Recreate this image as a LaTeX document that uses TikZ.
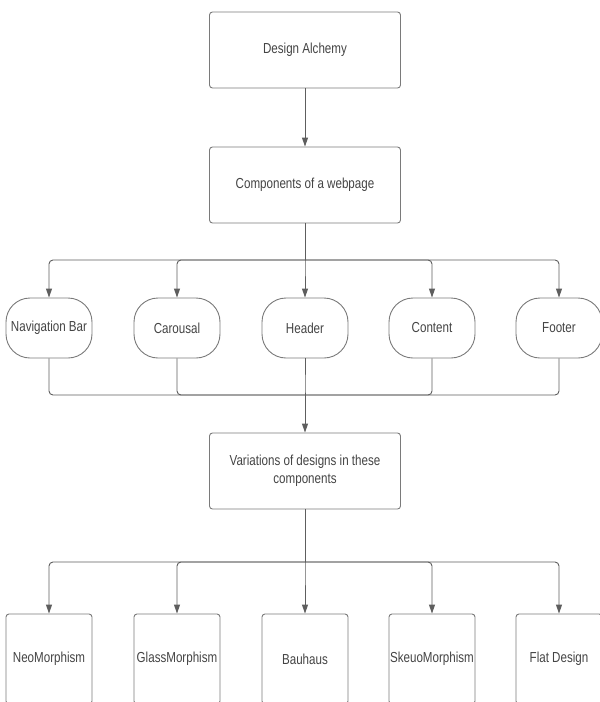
\documentclass[tikz,border=0pt]{standalone}
\usepackage{fontspec}
\setmainfont[FakeStretch=0.8]{Liberation Sans}
\usetikzlibrary{arrows.meta}
\definecolor{txt}{HTML}{444444}
\definecolor{ln}{HTML}{5E5E5E}
\definecolor{bd}{HTML}{7A7A7A}
\begin{document}
\begin{tikzpicture}[x=1pt,y=-1pt,
  every node/.style={font=\fontsize{14.5}{17}\selectfont, text=txt},
  box/.style={draw=bd, line width=0.9pt, rounded corners=3pt, minimum width=191pt, minimum height=76pt, align=center, inner sep=2pt},
  pill/.style={draw=bd, line width=0.9pt, rounded corners=24pt, minimum width=86pt, minimum height=60pt, inner sep=1pt},
  leaf/.style={draw=bd, line width=0.9pt, rounded corners=3pt, minimum width=86pt, minimum height=90pt, inner sep=1pt},
  conn/.style={draw=ln, line width=0.9pt, rounded corners=4pt},
  arr/.style={conn, -{Triangle[length=9pt,width=6pt]}}]
\useasboundingbox (0,0) rectangle (600,702);
\node[box] (da) at (305,50) {Design Alchemy};
\node[box] (comp) at (305,185) {Components of a webpage};
\node[pill] (nav) at (49,328) {Navigation Bar};
\node[pill] (car) at (177,328) {Carousal};
\node[pill] (hea) at (305,328) {Header};
\node[pill] (con) at (432,328) {Content};
\node[pill] (foo) at (559,328) {Footer};
\node[box] (var) at (305,471) {Variations of designs in these\\[1pt]components};
\node[leaf] (neo) at (49,659) {NeoMorphism};
\node[leaf] (gla) at (177,659) {GlassMorphism};
\node[leaf] (bau) at (305,659) {Bauhaus};
\node[leaf] (ske) at (432,659) {SkeuoMorphism};
\node[leaf] (fla) at (559,659) {Flat Design};
\coordinate (t1) at (305,260);
\coordinate (t2) at (305,395);
\coordinate (t3) at (305,562);
\draw[arr] (da) -- (comp);
\draw[conn] (comp) -- (t1);
\foreach \n in {nav,car,hea,con,foo} \draw[arr] (t1) -| (\n);
\foreach \n in {nav,car,hea,con,foo} \draw[conn] (\n) |- (t2);
\draw[arr] (t2) -- (var);
\draw[conn] (var) -- (t3);
\foreach \n in {neo,gla,bau,ske,fla} \draw[arr] (t3) -| (\n);
\end{tikzpicture}
\end{document}
